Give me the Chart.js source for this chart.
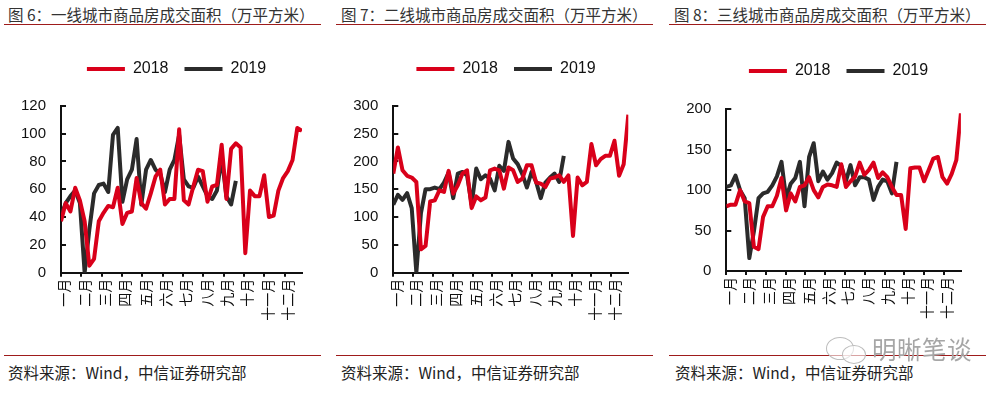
<!DOCTYPE html>
<html>
<head>
<meta charset="utf-8">
<script src="https://cdn.jsdelivr.net/npm/chart.js@4.4.1/dist/chart.umd.min.js"></script>
<style>
    body { margin: 0; width: 1005px; height: 395px; background: #fff; position: relative; overflow: hidden; font-family: "Noto Sans CJK SC", sans-serif; }
    .title { position: absolute; top: 3.5px; font-size: 15.5px; line-height: 20px; color: #333; white-space: nowrap; }
    .src { position: absolute; top: 362px; font-size: 15.5px; line-height: 20px; color: #222; white-space: nowrap; }
    .rule { position: absolute; height: 1px; width: 317px; background: #9e1b1b; }
    .wrap { position: absolute; top: 40px; height: 290px; }
    .mark { position: absolute; left: 872px; top: 333px; font-size: 24.5px; line-height: 32px; color: #a6a6a6; letter-spacing: 0.5px; }
    .bub { position: absolute; border: 1.5px solid #bdbdbd; border-radius: 50%; background: rgba(255,255,255,0.6); }
</style>
</head>
<body>
<div class="title" style="left:8px">图 6：一线城市商品房成交面积（万平方米）</div>
<div class="title" style="left:341px">图 7：二线城市商品房成交面积（万平方米）</div>
<div class="title" style="left:674px">图 8：三线城市商品房成交面积（万平方米）</div>
<div class="rule" style="left:4px;top:24px"></div>
<div class="rule" style="left:336px;top:24px"></div>
<div class="rule" style="left:669px;top:24px"></div>

<div class="wrap" style="left:0;width:353px"><canvas id="c1"></canvas></div>
<div class="wrap" style="left:335px;width:342px"><canvas id="c2"></canvas></div>
<div class="wrap" style="left:668px;width:341px"><canvas id="c3"></canvas></div>

<div class="rule" style="left:4px;top:355px"></div>
<div class="rule" style="left:336px;top:355px"></div>
<div class="rule" style="left:669px;top:355px"></div>
<div class="src" style="left:8px">资料来源：Wind，中信证券研究部</div>
<div class="src" style="left:341px">资料来源：Wind，中信证券研究部</div>
<div class="src" style="left:675px">资料来源：Wind，中信证券研究部</div>

<div class="bub" style="left:826px;top:337px;width:26px;height:21px"></div>
<div class="bub" style="left:842px;top:345px;width:22px;height:17px"></div>
<div class="mark">明晰笔谈</div>

<script>
// month labels on the x axis
const MONTHS = ['一月', '二月', '三月', '四月', '五月', '六月', '七月', '八月', '九月', '十月', '十一月', '十二月'];

// weekly area, 万平方米
const TIER1_2018 = [37, 50, 44, 61, 52, 37, 5, 10, 37, 43, 48, 47, 61, 35, 43, 44, 68, 50, 46, 57,
    69, 74, 49, 53, 53, 103, 52, 49, 62, 74, 73, 51, 62, 63, 92, 53, 89, 93, 90, 14,
    59, 55, 55, 70, 40, 41, 59, 68, 73, 81, 104, 102];
const TIER1_2019 = [41, 50, 55, 59, 50, 0, 31, 57, 63, 64, 58, 99, 104, 51, 67, 74, 96, 49, 74, 81,
    74, 71, 58, 74, 81, 99, 67, 62, 61, 69, 62, 55, 53, 59, 83, 55, 49, 66];

const TIER2_2018 = [178, 225, 184, 174, 171, 163, 42, 48, 128, 130, 148, 145, 183, 142, 157, 178, 184, 116, 137, 130,
    135, 184, 187, 184, 151, 189, 184, 163, 169, 193, 193, 162, 160, 154, 169, 171, 175, 163, 175, 66,
    171, 157, 163, 231, 193, 204, 210, 210, 237, 174, 195, 284];
const TIER2_2019 = [122, 140, 131, 143, 116, 0, 107, 150, 150, 153, 150, 162, 180, 134, 178, 181, 175, 122, 187, 168,
    175, 169, 148, 192, 183, 235, 205, 195, 177, 153, 181, 163, 134, 162, 171, 178, 163, 210];

const TIER3_2018 = [80, 82, 82, 100, 86, 84, 30, 27, 67, 80, 80, 93, 115, 75, 96, 86, 104, 106, 116, 100,
    91, 104, 107, 106, 104, 132, 104, 111, 117, 134, 119, 125, 134, 115, 122, 116, 104, 94, 94, 52,
    127, 128, 128, 111, 125, 139, 141, 116, 108, 120, 137, 195];
const TIER3_2019 = [104, 106, 118, 100, 90, 16, 49, 90, 96, 98, 106, 117, 135, 90, 108, 115, 135, 80, 141, 158,
    111, 123, 113, 121, 134, 130, 111, 131, 106, 116, 116, 113, 88, 104, 113, 111, 96, 135];

const RED = '#d9001a';
const DARK = '#2b2b2b';
const WEEKS_PER_MONTH = 4.3;
const NUM_FONT = { family: '"Liberation Sans", Arial, sans-serif', size: 15 };

function toPoints(values) {
    return values.map((v, i) => ({ x: i, y: v }));
}

function makeChart(id, s2018, s2019, yMax, yStep, geo) {
    const ctx = document.getElementById(id);
    return new Chart(ctx, {
        type: 'line',
        data: {
            datasets: [
                { label: '2018', data: toPoints(s2018), borderColor: RED, backgroundColor: RED, borderWidth: 4 },
                { label: '2019', data: toPoints(s2019), borderColor: DARK, backgroundColor: DARK, borderWidth: 4 }
            ]
        },
        options: {
            responsive: true,
            maintainAspectRatio: false,
            animation: false,
            devicePixelRatio: 1,
            layout: { padding: { top: geo.padTop, left: 0, right: 0, bottom: 0 } },
            elements: {
                line: { tension: 0, borderJoinStyle: 'round', borderCapStyle: 'butt' },
                point: { radius: 0 }
            },
            scales: {
                x: {
                    type: 'linear',
                    min: 0,
                    max: 51,
                    afterBuildTicks: (scale) => {
                        scale.ticks = MONTHS.map((m, i) => ({ value: i * WEEKS_PER_MONTH }));
                    },
                    afterFit: (scale) => {
                        scale.height = geo.xHeight;
                        scale.paddingRight = geo.padRight;
                        scale.paddingLeft = 0;
                    },
                    ticks: {
                        autoSkip: false,
                        minRotation: 90,
                        maxRotation: 90,
                        padding: 2,
                        labelOffset: 3,
                        color: '#111',
                        font: { family: '"Noto Sans CJK SC", sans-serif', size: 14 },
                        callback: (v, i) => MONTHS[i]
                    },
                    grid: { drawOnChartArea: false, drawTicks: true, tickLength: 4, color: '#111', lineWidth: 2 },
                    border: { display: true, color: '#111', width: 2 }
                },
                y: {
                    min: 0,
                    max: yMax,
                    afterFit: (scale) => { scale.width = geo.yWidth; },
                    ticks: { stepSize: yStep, padding: 20, color: '#111', font: NUM_FONT },
                    grid: { drawOnChartArea: false, drawTicks: true, tickLength: -5, color: '#111', lineWidth: 2 },
                    border: { display: true, color: '#111', width: 2 }
                }
            },
            plugins: {
                legend: {
                    position: 'top',
                    weight: 1000,
                    labels: {
                        usePointStyle: true,
                        pointStyle: 'line',
                        pointStyleWidth: 38,
                        padding: 16,
                        color: '#111',
                        font: { family: '"Liberation Sans", Arial, sans-serif', size: 16 }
                    }
                },
                // empty title used as a spacer between legend and plot
                title: {
                    display: true,
                    text: '',
                    weight: 100,
                    font: { size: 1, lineHeight: 1 },
                    padding: { top: 0, bottom: geo.gap }
                },
                tooltip: { enabled: false }
            }
        }
    });
}

makeChart('c1', TIER1_2018, TIER1_2019, 120, 20, { padTop: 5, gap: 17.7, xHeight: 57.3, yWidth: 61, padRight: 51 });
makeChart('c2', TIER2_2018, TIER2_2019, 300, 50, { padTop: 5, gap: 17.7, xHeight: 57.3, yWidth: 58.3, padRight: 48.7 });
makeChart('c3', TIER3_2018, TIER3_2019, 200, 50, { padTop: 7, gap: 19.3, xHeight: 59, yWidth: 58.3, padRight: 48.1 });
</script>
</body>
</html>
